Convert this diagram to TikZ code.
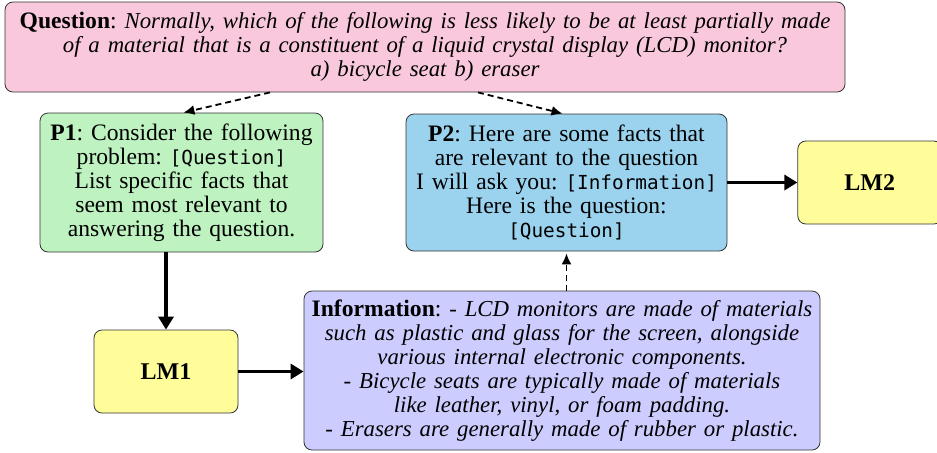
\documentclass[tikz,border=0pt]{standalone}
\usepackage{fontspec}
\setmainfont{Liberation Serif}
\setmonofont{DejaVu Sans Mono}[Scale=0.82]
\usepackage{tikz}
\usetikzlibrary{positioning}
\usetikzlibrary{arrows.meta}
\frenchspacing

\definecolor{questpink}{RGB}{249,200,220}
\definecolor{promptgreen}{RGB}{190,242,192}
\definecolor{promptblue}{RGB}{155,211,238}
\definecolor{lmyellow}{RGB}{254,253,154}
\definecolor{infoviolet}{RGB}{204,204,254}

\newcommand\slanted[1]{{\fontsize{11.4}{12}\selectfont\itshape #1}}

\tikzset{
	box/.style={draw=black!80, rounded corners=4pt, inner sep=2pt, align=center, font=\fontsize{11.8}{12}\selectfont},
	lmbox/.style={box, fill=lmyellow, minimum width=72pt, minimum height=41.5pt, font=\fontsize{12}{13}\selectfont\bfseries},
	flow/.style={line width=1.8pt, -{Triangle[length=6.5pt,width=7.5pt]}},
	hint/.style={line width=0.9pt, dash pattern=on 3pt off 2pt, -{Latex[length=5.5pt,width=5pt]}}
}

\begin{document}
\begin{tikzpicture}[x=0.5pt,y=-0.5pt]
	\useasboundingbox (0,0) rectangle (937,452);
	
	\node [box, fill=questpink, text width=416pt, minimum height=45pt] at (425,47) (quest) {\textbf{Question}: \slanted{Normally, which of the following is less likely to be at least partially made\\ of a material that is a constituent of a liquid crystal display (LCD) monitor?\\ a) bicycle seat b) eraser}};
	
	\node [box, fill=promptgreen, text width=137.5pt, minimum height=69.5pt] at (181.5,182.5) (p1) {\textbf{P1}: Consider the following\\ problem: \texttt{[Question]}\\ List specific facts that\\ seem most relevant to\\ answering the question.};
	\node [box, fill=promptblue, text width=156.5pt, minimum height=68.5pt] at (566.5,182.5) (p2) {\textbf{P2}: Here are some facts that\\ are relevant to the question\\ I will ask you: \texttt{[Information]}\\ Here is the question:\\ \texttt{[Question]}};
	\node [lmbox, right=35pt of p2] (lm2) {LM2};
	
	\node [lmbox] at (166,371.5) (lm1) {LM1};
	\node [box, fill=infoviolet, text width=254pt, minimum height=79.5pt] at (562,370.5) (info) {\textbf{Information}: \slanted{- LCD monitors are made of materials\\ such as plastic and glass for the screen, alongside\\ various internal electronic components.\\ - Bicycle seats are typically made of materials\\ like leather, vinyl, or foam padding.\\ - Erasers are generally made of rubber or plastic.}};
	
	\draw [hint] ([xshift=-77.5pt]quest.south) -- ([xshift=1pt]p1.north);
	\draw [hint] ([xshift=26.5pt]quest.south) -- ([xshift=-2pt]p2.north);
	\draw [flow] (p1.south -| lm1.north) -- (lm1.north);
	\draw [flow] (lm1.east) -- (lm1.east -| info.west);
	\draw [flow] (p2.east) -- (lm2.west);
	\draw [hint, shorten >=1pt] (p2.south |- info.north) -- (p2.south);
	
\end{tikzpicture}
\end{document}
